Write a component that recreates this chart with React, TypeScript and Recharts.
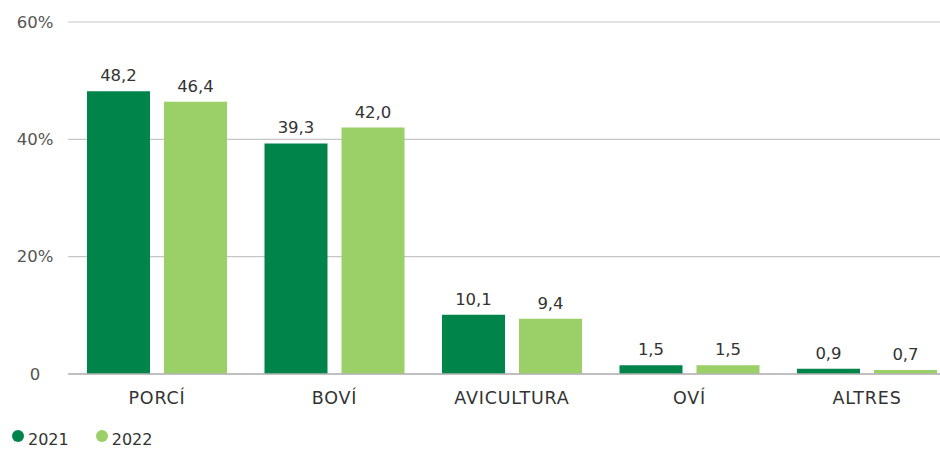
import { BarChart, Bar, XAxis, YAxis, CartesianGrid, LabelList } from 'recharts';

const categories = ['PORCÍ', 'BOVÍ', 'AVICULTURA', 'OVÍ', 'ALTRES'];
const values2021 = [48.2, 39.3, 10.1, 1.5, 0.9];
const values2022 = [46.4, 42.0, 9.4, 1.5, 0.7];
const yTicks = [0, 20, 40, 60];
const seriesNames = ['2021', '2022'];

const DARK = '#00844a';
const LIGHT = '#9bcf67';
const FONT = "'DejaVu Sans', sans-serif";

const data = categories.map((c, i) => ({
  name: c,
  y2021: values2021[i],
  y2022: values2022[i],
}));

const fmt = (v: number) => v.toFixed(1).replace('.', ',');

function YTick({ y, payload }: any) {
  return (
    <text x={35} y={y} textAnchor="middle" dominantBaseline="central" fill="#555" fontSize={16.5} fontFamily={FONT}>
      {payload.value === 0 ? '0' : `${payload.value}%`}
    </text>
  );
}

function XTick({ x, payload }: any) {
  return (
    <text x={x} y={398} textAnchor="middle" dominantBaseline="central" fill="#333" fontSize={17.5} letterSpacing={0.8} fontFamily={FONT}>
      {payload.value}
    </text>
  );
}

export default function App() {
  return (
    <div style={{ position: 'absolute', left: 0, top: 0, width: 940, height: 451, overflow: 'hidden', background: '#fff' }}>
      <BarChart
        width={960}
        height={451}
        data={data}
        margin={{ top: 22, right: 4.25, left: 8.25, bottom: 37 }}
        barCategoryGap={18.75}
        barGap={14}
      >
        <CartesianGrid vertical={false} stroke="#c6c6c6" strokeWidth={1.2} />
        <XAxis
          dataKey="name"
          height={40}
          axisLine={{ stroke: '#b5b5b5', strokeWidth: 1.5 }}
          tickLine={false}
          tick={<XTick />}
          interval={0}
        />
        <YAxis
          width={60}
          domain={[0, 60]}
          ticks={yTicks}
          axisLine={false}
          tickLine={false}
          tick={<YTick />}
        />
        <Bar dataKey="y2021" fill={DARK} isAnimationActive={false}>
          <LabelList dataKey="y2021" position="top" offset={10} formatter={(v: any) => fmt(Number(v))} fill="#333" fontSize={16.5} fontFamily={FONT} />
        </Bar>
        <Bar dataKey="y2022" fill={LIGHT} isAnimationActive={false}>
          <LabelList dataKey="y2022" position="top" offset={10} formatter={(v: any) => fmt(Number(v))} fill="#333" fontSize={16.5} fontFamily={FONT} />
        </Bar>
      </BarChart>
      <div style={{ position: 'absolute', left: 12, top: 428, display: 'flex', fontFamily: FONT, fontSize: 16, color: '#333' }}>
        {seriesNames.map((n, i) => (
          <div key={n} style={{ display: 'flex', alignItems: 'flex-start', marginRight: 27 }}>
            <span style={{ width: 12, height: 12, borderRadius: 6, background: i === 0 ? DARK : LIGHT, marginTop: 2, marginRight: 4 }} />
            <span style={{ marginTop: 1, lineHeight: '22px' }}>{n}</span>
          </div>
        ))}
      </div>
    </div>
  );
}
